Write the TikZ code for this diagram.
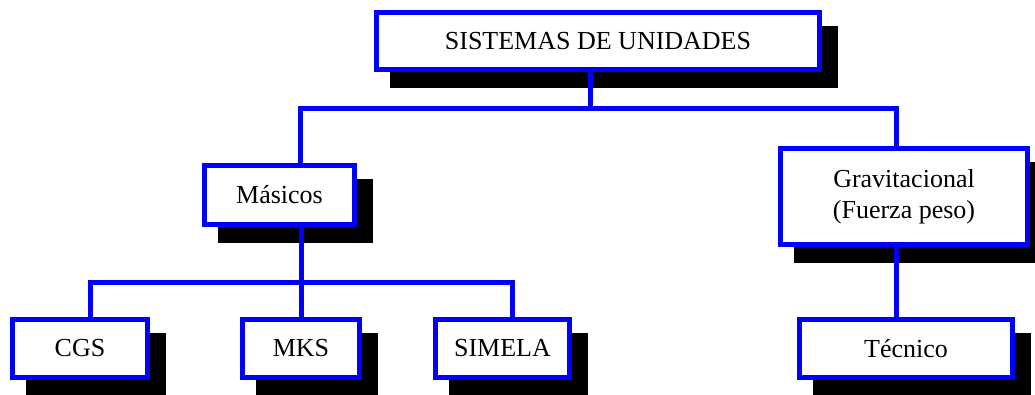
\documentclass[tikz,border=0pt]{standalone}
\usepackage{fontspec}
\setmainfont{Liberation Serif}
\usetikzlibrary{shadows}
\definecolor{azul}{RGB}{0,0,255}
\tikzset{
  caja/.style={draw=azul, line width=5pt, fill=white, inner sep=0pt, align=center,
    font=\fontsize{26}{31}\selectfont,
    drop shadow={shadow xshift=16pt, shadow yshift=-16pt, fill=black, draw=black, opacity=1}},
  enlace/.style={draw=azul, line width=5pt}
}
\newcommand{\caja}[6]{\node[caja, minimum width=#5pt, minimum height=#6pt] (#1) at (#2,#3) {#4};}
\newcommand{\enlace}[2]{\draw[enlace] (#1) -- (#2);}

\begin{document}
\begin{tikzpicture}[x=1pt,y=-1pt]
    \useasboundingbox (0,0) rectangle (1035,394);
    \caja{sistemas}{598}{41}{SISTEMAS DE UNIDADES}{443}{57}
    \caja{masicos}{279.5}{195}{Másicos}{150}{59}
    \caja{grav}{904}{196.5}{Gravitacional\\(Fuerza peso)}{247}{96}
    \caja{cgs}{80}{348.5}{CGS}{135}{58}  \caja{mks}{301}{348.5}{MKS}{117}{58}
    \caja{simela}{502.5}{348.5}{SIMELA}{134}{58}
    \caja{tecnico}{906}{348.5}{Técnico}{213}{58}
    \coordinate (r0) at (590,108); \coordinate (r1) at (300,108); \coordinate (r2) at (896,108);
    \coordinate (s1) at (90,282); \coordinate (s2) at (301,282); \coordinate (s3) at (512,282);
    \enlace{sistemas.south -| r0}{r0}
    \draw[enlace] (masicos.north -| r1) -- (r1) -- (r2) -- (grav.north -| r2);
    \enlace{masicos.south -| s2}{mks.north}
    \draw[enlace] (cgs.north -| s1) -- (s1) -- (s3) -- (simela.north -| s3);
    \enlace{grav.south -| r2}{tecnico.north -| r2}
\end{tikzpicture}
\end{document}
